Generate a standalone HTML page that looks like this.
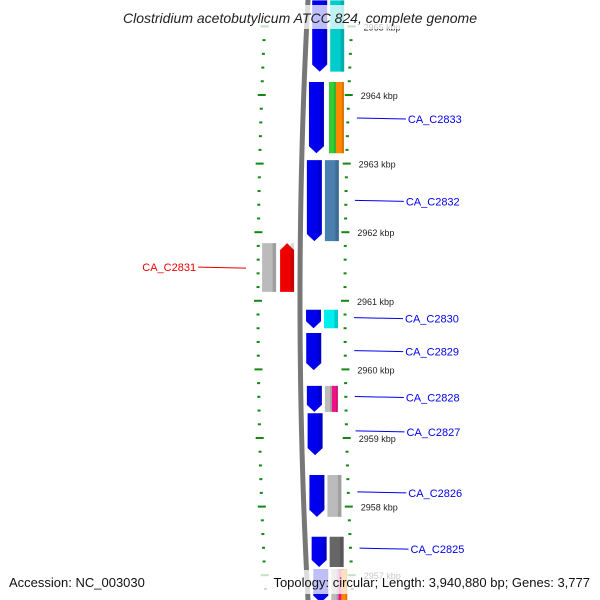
<!DOCTYPE html>
<html><head><meta charset="utf-8"><style>
html,body{margin:0;padding:0;background:#fff;}
svg{display:block;font-family:"Liberation Sans","DejaVu Sans",sans-serif;}
</style></head><body>
<svg id="map" width="600" height="600" viewBox="0 0 600 600" xmlns="http://www.w3.org/2000/svg">
<g id="ticks"></g>
<path id="backbone" fill="none" stroke="#777" stroke-width="5"/>
<g id="genes"></g>
<g id="labels"></g>
<rect x="100" y="5" width="400" height="24" fill="#fff" opacity="0.75"/>
<text x="300" y="23" text-anchor="middle" font-size="14" font-style="italic" fill="#222">Clostridium acetobutylicum ATCC 824, complete genome</text>
<rect x="0" y="570" width="600" height="24" fill="#fff" opacity="0.75"/>
<text x="9" y="587" font-size="13" fill="#111">Accession: NC_003030</text>
<text x="590" y="587" text-anchor="end" font-size="13" fill="#111">Topology: circular; Length: 3,940,880 bp; Genes: 3,777</text>
</svg>
<script>
const tickKbp = [2965, 2964, 2963, 2962, 2961, 2960, 2959, 2958, 2957];
const geneStart = [2965.38, 2965.38, 2964.19, 2964.19, 2964.19, 2963.05, 2963.05, 2961.84, 2961.84, 2960.87, 2960.87, 2960.53, 2959.76, 2959.76, 2959.76, 2959.36, 2958.46, 2958.46, 2957.56, 2957.56, 2957.08, 2957.08, 2957.08, 2957.08];
const geneEnd   = [2964.34, 2964.34, 2963.15, 2963.15, 2963.15, 2961.87, 2961.87, 2961.13, 2961.13, 2960.60, 2960.60, 2959.99, 2959.38, 2959.38, 2959.38, 2958.75, 2957.85, 2957.85, 2957.12, 2957.12, 2956.60, 2956.60, 2956.60, 2956.60];
const geneCol   = ['b','c','b','g','o','b','c','lg','lr','b','c','b','b','cg','cp','b','b','c','b','c','b','cp','cg','o2'];
const geneColor = ['#0000ee','#00cccc','#0000ee','#33cc33','#ff8800','#0000ee','#4a7fb0','#bbbbbb','#ee0000','#0000ee','#00eeee','#0000ee','#0000ee','#bbbbbb','#ee1188','#0000ee','#0000ee','#bbbbbb','#0000ee','#666666','#0000ee','#ee1188','#bbbbbb','#ff8800'];
const geneArrow = [1,0,1,0,0,1,0,0,-1,1,0,1,1,0,0,1,1,0,1,0,1,0,0,0];
const labelText = ['CA_C2833','CA_C2832','CA_C2831','CA_C2830','CA_C2829','CA_C2828','CA_C2827','CA_C2826','CA_C2825'];
const labelKbp  = [2963.65, 2962.45, 2961.49, 2960.74, 2960.26, 2959.59, 2959.09, 2958.20, 2957.38];
const labelSide = ['r','r','l','r','r','r','r','r','r'];
const labelColor= ['#0000ee','#0000ee','#ee0000','#0000ee','#0000ee','#0000ee','#0000ee','#0000ee','#0000ee'];

const NS='http://www.w3.org/2000/svg';
function yOf(k){ return 95 + (2964 - k) * 68.6; }
function xb(y){ const t=(y-300)/300; return 300 + 8*t*t; }
const colX = {b:[6,21], c:[24,38], g:[26,33], o:[33,41], o2:[34,40], cg:[24,31], cp:[31,37], lg:[-38,-24], lr:[-20,-6]};
function mk(tag, attrs, parent){ const e=document.createElementNS(NS,tag); for(const k in attrs) e.setAttribute(k, attrs[k]); parent.appendChild(e); return e; }

let d='';
for(let y=-5;y<=605;y+=5){ d += (d?'L':'M') + xb(y).toFixed(2)+' '+y+' '; }
document.getElementById('backbone').setAttribute('d', d);

const tg=document.getElementById('ticks');
const kMin=Math.min(...tickKbp)-1, kMax=Math.max(...tickKbp);
for(let i=0;i<=Math.round((kMax-kMin)*10);i+=2){
  const k=kMax - i/10; const y=yOf(k); if(y<-5||y>605) continue;
  const major = i%10===0;
  const xr = xb(y)+45;
  const r=mk('line',{x1:xr-(major?4:1.5), x2:xr+(major?4:1.5), y1:y, y2:y, stroke:'#118811','stroke-width':2},tg);
  
  
  const xl=xb(y)-42;
  const l=mk('line',{x1:xl-(major?4:1.5), x2:xl+(major?4:1.5), y1:y, y2:y, stroke:'#118811','stroke-width':2},tg);
  
  
}
tickKbp.forEach(k=>{
  const y=yOf(k);
  const t=mk('text',{x:xb(y)+57, y:y+4, 'font-size':9, fill:'#222'},tg);
  t.textContent = k+' kbp';
  
  
});

const gg=document.getElementById('genes');
for(let i=0;i<geneStart.length;i++){
  const y1=yOf(geneStart[i]), y2=yOf(geneEnd[i]);
  const ym=(y1+y2)/2, b=xb(ym);
  const [a,c]=colX[geneCol[i]]; const x1=b+a, x2=b+c; const w=x2-x1;
  let pts;
  if(geneArrow[i]===1){ pts=[[x1,y1],[x2,y1],[x2,y2-7],[(x1+x2)/2,y2],[x1,y2-7]]; }
  else if(geneArrow[i]===-1){ pts=[[x1,y1+7],[(x1+x2)/2,y1],[x2,y1+7],[x2,y2],[x1,y2]]; }
  else { pts=[[x1,y1],[x2,y1],[x2,y2],[x1,y2]]; }
  const p=mk('polygon',{points:pts.map(q=>q.join(',')).join(' '), fill:geneColor[i]},gg);
  
  
  const s=mk('rect',{x:x2-w*0.25, y:y1, width:w*0.25, height:Math.max(0,y2-y1-(geneArrow[i]===1?7:0)), fill:'#000', opacity:0.15},gg);
  
  
}

const lg=document.getElementById('labels');
for(let i=0;i<labelText.length;i++){
  const y=yOf(labelKbp[i]); const b=xb(y);
  let t;
  if(labelSide[i]==='r'){
    mk('line',{x1:b+54, x2:b+103, y1:y-1, y2:y, stroke:labelColor[i], 'stroke-width':1},lg);
    t=mk('text',{x:b+105, y:y+4, 'font-size':11, fill:labelColor[i]},lg);
  } else {
    mk('line',{x1:b-54, x2:b-102, y1:y+1, y2:y, stroke:labelColor[i], 'stroke-width':1},lg);
    t=mk('text',{x:b-104, y:y+4, 'font-size':11, fill:labelColor[i], 'text-anchor':'end'},lg);
  }
  t.textContent=labelText[i];
  
  
}
</script>
</body></html>
